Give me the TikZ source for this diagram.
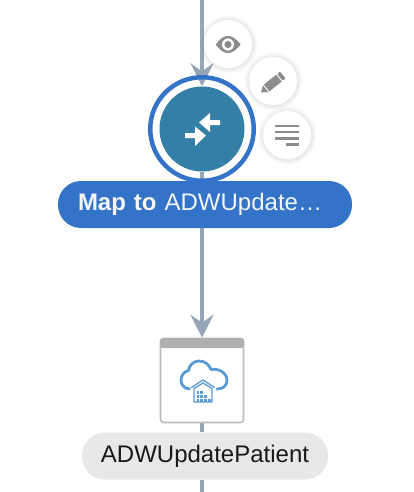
\documentclass[tikz,border=0pt]{standalone}
\usepackage{fontspec}
\setmainfont{Liberation Sans}
\usetikzlibrary{arrows.meta,backgrounds,shadows,calc}
\definecolor{flow}{HTML}{97A6B6}
\definecolor{mapblue}{HTML}{3373C8}
\definecolor{disc}{HTML}{337FA6}
\definecolor{icongrey}{HTML}{8C8C8C}
\definecolor{cloudblue}{HTML}{5B9BD5}
\tikzset{
  connector/.style={draw=flow,line width=4.4pt},
  arrowed/.style={connector,-{Stealth[length=23pt,width=23pt,inset=8pt]}},
  bubble/.style={circle,fill=white,minimum size=48pt,inner sep=0pt,
    circular drop shadow={shadow xshift=0pt,shadow yshift=0pt,shadow scale=1.22,opacity=.16}},
  labelpill/.style={rounded corners=23pt,minimum height=47pt,inner ysep=0pt,font=\fontsize{24}{28}\selectfont},
  iconline/.style={draw=icongrey,line width=2.7pt},
  cloudline/.style={draw=cloudblue,line cap=round,line join=round}
}
\begin{document}
\begin{tikzpicture}[x=1pt,y=-1pt]
\useasboundingbox (0,0) rectangle (414,492);
\coordinate (flowtop) at (202,0);
\coordinate (flowend) at (202,492);
% action node
\node[circle,draw=mapblue,line width=4.5pt,minimum size=103.5pt,inner sep=0pt] (mapring) at (202,129) {};
\node[circle,fill=disc,minimum size=85pt,inner sep=0pt] (mapdisc) at (202,129) {};
\fill[white] (199,122.5) -- (210,113) -- (210,120) -- (220,120) -- (220,125) -- (210,125) -- (210,132) -- cycle;
\fill[white] (206,135.5) -- (195,126.5) -- (195,133) -- (185,133) -- (185,138) -- (195,138) -- (195,146) -- cycle;
% bubbles
\node[bubble] (eyeb) at (228,44) {};
\node[bubble] (penb) at (273,81) {};
\node[bubble] (menub) at (287,135) {};
% eye icon
\fill[icongrey,even odd rule] (215.8,44.5) .. controls (220,38.5) and (224,36) .. (228,36) .. controls (232,36) and (236,38.5) .. (240.6,44.5) .. controls (236,50.5) and (232,53) .. (228,53) .. controls (224,53) and (220,50.5) .. (215.8,44.5) -- cycle
  (228,44.5) circle[radius=6.2];
\fill[icongrey] (228,44.5) circle[radius=3.6];
% pencil icon
\fill[icongrey] (261,92.5) -- (268.43,92.18) -- (262.93,85.32) -- cycle;
\fill[icongrey] (269.37,91.43) -- (281.69,81.56) -- (276.19,74.7) -- (263.87,84.57) -- cycle;
\fill[icongrey,rounded corners=1pt] (282.63,80.81) -- (285.59,78.43) -- (280.09,71.57) -- (277.13,73.95) -- cycle;
% menu icon
\draw[iconline] (275,126) -- (299.3,126);
\draw[iconline] (275,132) -- (299.3,132);
\draw[iconline] (275,138.3) -- (299.3,138.3);
\draw[iconline] (286,144.7) -- (299.3,144.7);
% map label
\node[labelpill,fill=mapblue,text=white!96!black,minimum width=294pt,text width=254pt,inner xsep=20pt,align=left] (maplabel) at (205,204.5) {\textbf{Map to} ADWUpdate…};
% target box
\node[draw=black!26,fill=white,line width=1.6pt,rounded corners=3pt,minimum width=83pt,minimum height=84pt,inner sep=0pt] (target) at (202,380.5) {};
\fill[black!31,rounded corners=3pt] (160,348) -- (160,338) -- (244,338) -- (244,348) -- cycle;
% cloud icon
\draw[cloudline,line width=2.8pt] (189.5,389) .. controls (184,388.5) and (181,384.5) .. (181,380.5) .. controls (181,375.5) and (184,371.5) .. (188.5,370.5) .. controls (189,365) and (194,361) .. (199,361) .. controls (205,361) and (209,364.5) .. (211,369.5) .. controls (218,368) and (227,372.5) .. (227,380.5) .. controls (227,385.5) and (223,389) .. (217,389);
\draw[cloudline,line width=1.3pt] (191.5,387.5) -- (203,380) -- (214.5,387.5);
\draw[cloudline,line width=1.3pt] (194,388.5) -- (203,383) -- (212,388.5) -- (212,402) -- (194,402) -- cycle;
\foreach \cx/\cy in {198/392.5,198/396.5,198/400.3,201.8/392.5,201.8/396.5,201.8/400.3,205.6/396.5,205.6/400.3,209.2/400.3}
  \fill[cloudblue] (\cx-1.4,\cy-1.4) rectangle (\cx+1.4,\cy+1.4);
% target label
\node[labelpill,fill=black!9,text=black!90,minimum width=246pt] (targetlabel) at (205,456) {ADWUpdatePatient};
% connectors
\begin{pgfonlayer}{background}
\fill[white] (0,0) rectangle (414,492);
\draw[arrowed] (flowtop) -- (mapdisc.north);
\draw[arrowed] (mapdisc.south) -- (mapdisc.south |- target.north);
\draw[connector] (target.south) -- (target.south |- targetlabel.north);
\draw[connector] (target.south |- targetlabel.south) -- (flowend);
\end{pgfonlayer}
\end{tikzpicture}
\end{document}
